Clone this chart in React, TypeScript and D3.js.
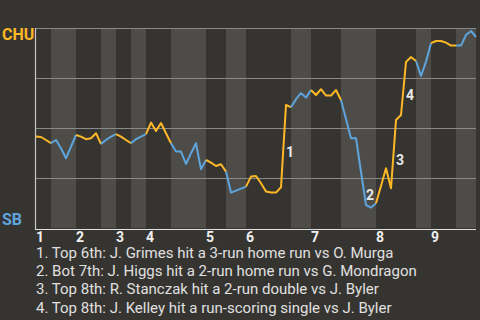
import React from "react";
import * as d3 from "d3";

const winProb: number[] = [
  0.457, 0.455, 0.44, 0.424, 0.44, 0.399, 0.349, 0.407, 0.465, 0.457,
  0.444, 0.449, 0.474, 0.42, 0.44, 0.457, 0.469, 0.457, 0.44, 0.424,
  0.444, 0.457, 0.469, 0.527, 0.485, 0.525, 0.474, 0.424, 0.382, 0.382,
  0.32, 0.374, 0.424, 0.294, 0.34, 0.327, 0.31, 0.319, 0.282, 0.177,
  0.187, 0.197, 0.207, 0.257, 0.26, 0.224, 0.182, 0.177, 0.177, 0.204,
  0.615, 0.604, 0.644, 0.674, 0.652, 0.69, 0.665, 0.694, 0.662, 0.662,
  0.69, 0.64, 0.545, 0.449, 0.449, 0.28, 0.115, 0.102, 0.124, 0.21,
  0.299, 0.199, 0.54, 0.565, 0.83, 0.855, 0.835, 0.76, 0.832, 0.924,
  0.935, 0.935, 0.927, 0.912, 0.912, 0.912, 0.965, 0.985, 0.955,
];

const halfInningStarts: number[] = [0, 3, 8, 13, 16, 19, 22, 27, 34, 38, 42, 51, 55, 61, 68, 76, 79, 84, 88];
const inningLabels: string[] = ["1", "2", "3", "4", "5", "6", "7", "8", "9"];
const gridValues: number[] = [0.25, 0.5, 0.75, 1];

const eventIdx: number[] = [50, 66, 72, 74];
const eventLabels: string[] = ["1", "2", "3", "4"];
const eventTexts: string[] = [
  "1. Top 6th: J. Grimes hit a 3-run home run vs O. Murga",
  "2. Bot 7th: J. Higgs hit a 2-run home run vs G. Mondragon",
  "3. Top 8th: R. Stanczak hit a 2-run double vs J. Byler",
  "4. Top 8th: J. Kelley hit a run-scoring single vs J. Byler",
];

const awayTeam = "CHU";
const homeTeam = "SB";

const W = 480;
const H = 320;
const BG = "#363430";
const BAND = "#4d4c49";
const ORANGE = "#fdb827";
const BLUE = "#5da5dc";
const FONT = "Roboto, sans-serif";

export default function App() {
  const n = winProb.length - 1;
  const x = d3.scaleLinear().domain([0, n]).range([36, 476]);
  const y = d3.scaleLinear().domain([0, 1]).range([228, 28]);
  const line = d3
    .line<number>()
    .x((_, i) => 0)
    .y((d) => y(d));

  const segments: { d: string; color: string }[] = [];
  for (let k = 0; k < halfInningStarts.length - 1; k++) {
    const a = halfInningStarts[k];
    const b = halfInningStarts[k + 1];
    const pts: [number, number][] = [];
    for (let i = a; i <= b; i++) pts.push([x(i), y(winProb[i])]);
    const gen = d3.line<[number, number]>().x((p) => p[0]).y((p) => p[1]);
    segments.push({ d: gen(pts) || "", color: k % 2 === 0 ? ORANGE : BLUE });
  }
  void line;

  const bands: { x0: number; x1: number }[] = [];
  for (let k = 1; k < halfInningStarts.length - 1; k += 2) {
    bands.push({ x0: x(halfInningStarts[k]), x1: x(halfInningStarts[k + 1]) });
  }

  return (
    <svg
      width={W}
      height={H}
      style={{ position: "absolute", left: 0, top: 0, display: "block" }}
      fontFamily={FONT}
    >
      <rect x={0} y={0} width={W} height={H} fill={BG} />
      {bands.map((b, i) => (
        <rect key={i} x={b.x0} y={y(1)} width={b.x1 - b.x0} height={y(0) - y(1)} fill={BAND} />
      ))}
      {gridValues.map((g) => (
        <line key={g} x1={35} x2={476} y1={Math.round(y(g)) + 0.5} y2={Math.round(y(g)) + 0.5} stroke="#8a8a88" strokeWidth={1} />
      ))}
      <line x1={35.5} x2={35.5} y1={y(1)} y2={y(0) + 2} stroke="#c8c8c8" strokeWidth={1.2} />
      <line x1={35} x2={476} y1={y(0) + 1.5} y2={y(0) + 1.5} stroke="#e0e0e0" strokeWidth={1.2} />
      {segments.map((s, i) => (
        <path key={i} d={s.d} fill="none" stroke={s.color} strokeWidth={2} strokeLinejoin="round" />
      ))}
      {eventIdx.map((ei, i) => (
        <text
          key={i}
          x={x(ei)}
          y={(y(winProb[ei - 1]) + y(winProb[ei])) / 2 + 6}
          dominantBaseline="central"
          fontSize={14}
          fontWeight="bold"
          fill="#e8e8e8"
        >
          {eventLabels[i]}
        </text>
      ))}
      {inningLabels.map((lab, i) => (
        <text key={lab} x={x(halfInningStarts[i * 2])} y={242} fontSize={14} fontWeight="bold" fill="#f0f0f0">
          {lab}
        </text>
      ))}
      <text x={2} y={40} fontSize={16} fontWeight="bold" fill={ORANGE}>
        {awayTeam}
      </text>
      <text x={2} y={225} fontSize={16} fontWeight="bold" fill={BLUE}>
        {homeTeam}
      </text>
      {eventTexts.map((t, i) => (
        <text key={i} x={36} y={258 + i * 18.2} fontSize={15} fill="#e0e0e0">
          {t}
        </text>
      ))}
    </svg>
  );
}
